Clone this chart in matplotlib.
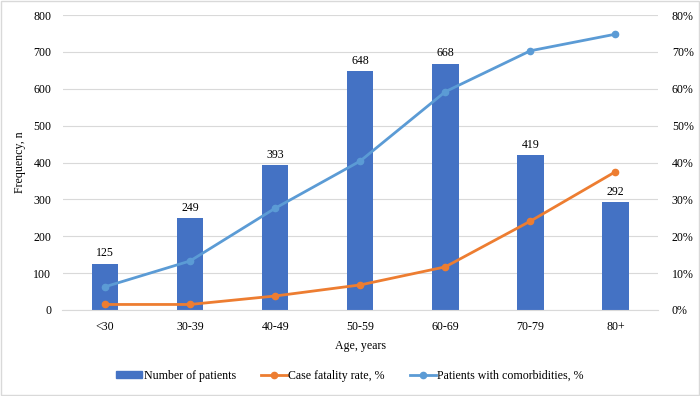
import matplotlib.pyplot as plt
import numpy as np
from matplotlib.lines import Line2D
from matplotlib.patches import Patch, Rectangle

plt.rcParams['font.family'] = ['Liberation Serif', 'DejaVu Serif']

# data
ages = ["<30", "30-39", "40-49", "50-59", "60-69", "70-79", "80+"]
patients = [125, 249, 393, 648, 668, 419, 292]
fatality = [1.5, 1.5, 3.8, 6.8, 11.7, 24.1, 37.5]
comorbid = [6.3, 13.3, 27.6, 40.4, 59.2, 70.3, 74.8]

bar_col = "#4472C4"
orange = "#ED7D31"
lblue = "#5B9BD5"
fs = 8.6

fig = plt.figure(figsize=(7, 3.96), dpi=100)
ax = fig.add_axes([62.5 / 700, 1 - 310 / 396, (658 - 62.5) / 700, 295 / 396])
x = np.arange(len(ages))

ax.bar(x, patients, width=0.31, color=bar_col, zorder=2)
for xi, v in zip(x, patients):
    ax.text(xi, v + 12, str(v), ha="center", va="bottom", fontsize=fs)

ax.set_ylim(0, 800)
ax.set_yticks(range(0, 801, 100))
ax.set_xlim(-0.5, len(ages) - 0.5)
ax.set_xticks(x)
ax.set_xticklabels(ages)
ax.grid(axis="y", color="#d9d9d9", linewidth=0.8, zorder=0)
ax.tick_params(axis="x", length=0, labelsize=fs, pad=8)
ax.tick_params(axis="y", length=0, labelsize=fs, pad=8)
for s in ["top", "right", "left"]:
    ax.spines[s].set_visible(False)
ax.spines["bottom"].set_color("#d9d9d9")
ax.set_ylabel("Frequency, n", fontsize=fs, labelpad=5)
ax.set_xlabel("Age, years", fontsize=fs, labelpad=5)

ax2 = ax.twinx()
ax2.plot(x, fatality, color=orange, marker="o", markersize=4.5, linewidth=2, zorder=3)
ax2.plot(x, comorbid, color=lblue, marker="o", markersize=4.5, linewidth=2, zorder=3)
ax2.set_ylim(0, 80)
ax2.set_yticks(range(0, 81, 10))
ax2.set_yticklabels([f"{v}%" for v in range(0, 81, 10)])
ax2.tick_params(length=0, labelsize=fs, pad=10)
for s in ax2.spines.values():
    s.set_visible(False)

handles = [
    Patch(color=bar_col),
    Line2D([], [], color=orange, marker="o", markersize=4.5, linewidth=2),
    Line2D([], [], color=lblue, marker="o", markersize=4.5, linewidth=2),
]
labels = ["Number of patients", "Case fatality rate, %", "Patients with comorbidities, %"]
fig.legend(handles, labels, loc="center", bbox_to_anchor=(0.5, 1 - 376 / 396),
           ncol=3, frameon=False, fontsize=fs, handlelength=2.2, handleheight=0.5,
           handletextpad=0.1, columnspacing=2.1)

fig.patches.append(Rectangle((0.002, 0.003), 0.996, 0.994, transform=fig.transFigure,
                             fill=False, edgecolor="#d9d9d9", linewidth=1))

fig.savefig("out.png", dpi=100)
